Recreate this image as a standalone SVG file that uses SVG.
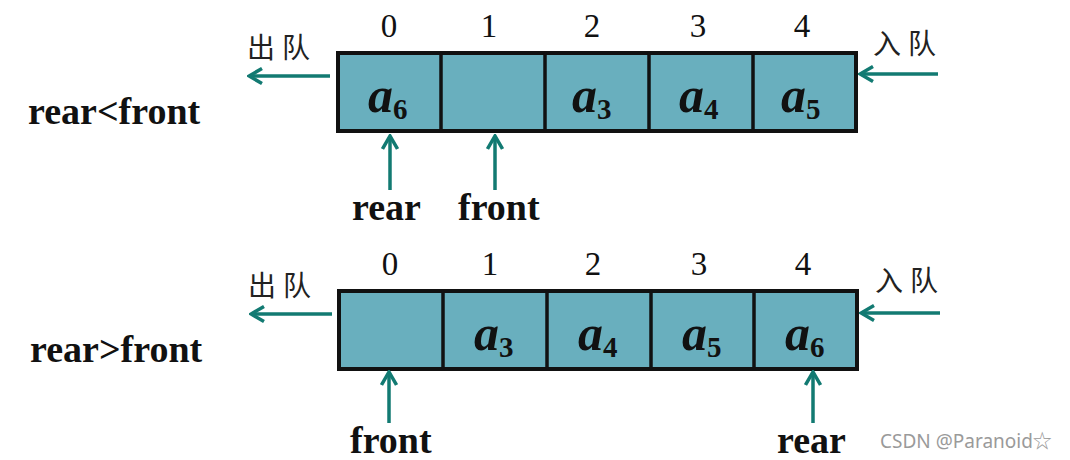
<svg xmlns="http://www.w3.org/2000/svg" width="1070" height="460" viewBox="0 0 1070 460">
<defs>
<style>
.cell{fill:#69afbe;stroke:#111;stroke-width:4}
.div{stroke:#111;stroke-width:3.5}
.idx{font-family:"Liberation Serif","Times New Roman",serif;font-size:33px;fill:#111;text-anchor:middle}
.el{font-family:"Liberation Serif","Times New Roman",serif;font-weight:bold;fill:#111}
.el .a{font-style:italic;font-size:50px}
.el .s{font-size:29px}
.lbl{font-family:"Liberation Serif","Times New Roman",serif;font-weight:bold;font-size:38px;fill:#111}
.cn{font-family:"Noto Sans CJK SC",sans-serif;font-size:28px;fill:#222;letter-spacing:7px}
.arr{stroke:#127a72;stroke-width:3.5;fill:none}
.wm{font-family:"Noto Sans","Noto Sans CJK SC",sans-serif;font-size:19px;fill:#9a9a9a}
</style>
<marker id="ah" viewBox="0 0 18 18" refX="16" refY="9" markerWidth="18" markerHeight="18" markerUnits="userSpaceOnUse" orient="auto">
<polyline points="3,1.5 16,9 3,16.5" fill="none" stroke="#127a72" stroke-width="3.5"/>
</marker>
</defs>
<rect width="1070" height="460" fill="#fff"/>

<g id="top-array">
<rect class="cell" x="338" y="53" width="518" height="78"/>
<line class="div" x1="441" y1="53" x2="441" y2="131"/>
<line class="div" x1="545" y1="53" x2="545" y2="131"/>
<line class="div" x1="649" y1="53" x2="649" y2="131"/>
<line class="div" x1="753" y1="53" x2="753" y2="131"/>
<text class="idx" x="389" y="37">0</text>
<text class="idx" x="489" y="37">1</text>
<text class="idx" x="592" y="37">2</text>
<text class="idx" x="698" y="37">3</text>
<text class="idx" x="802" y="37">4</text>
<text class="el" x="368" y="112"><tspan class="a">a</tspan><tspan class="s" dx="0" dy="7">6</tspan></text>
<text class="el" x="572" y="112"><tspan class="a">a</tspan><tspan class="s" dx="0" dy="7">3</tspan></text>
<text class="el" x="679" y="112"><tspan class="a">a</tspan><tspan class="s" dx="0" dy="7">4</tspan></text>
<text class="el" x="781" y="112"><tspan class="a">a</tspan><tspan class="s" dx="0" dy="7">5</tspan></text>
</g>

<g id="bottom-array">
<rect class="cell" x="339" y="291" width="518" height="78"/>
<line class="div" x1="443" y1="291" x2="443" y2="369"/>
<line class="div" x1="547" y1="291" x2="547" y2="369"/>
<line class="div" x1="651" y1="291" x2="651" y2="369"/>
<line class="div" x1="754" y1="291" x2="754" y2="369"/>
<text class="idx" x="390" y="275">0</text>
<text class="idx" x="490" y="275">1</text>
<text class="idx" x="593" y="275">2</text>
<text class="idx" x="699" y="275">3</text>
<text class="idx" x="803" y="275">4</text>
<text class="el" x="474" y="350"><tspan class="a">a</tspan><tspan class="s" dx="0" dy="7">3</tspan></text>
<text class="el" x="578" y="350"><tspan class="a">a</tspan><tspan class="s" dx="0" dy="7">4</tspan></text>
<text class="el" x="682" y="350"><tspan class="a">a</tspan><tspan class="s" dx="0" dy="7">5</tspan></text>
<text class="el" x="785" y="350"><tspan class="a">a</tspan><tspan class="s" dx="0" dy="7">6</tspan></text>
</g>

<g id="labels">
<text class="lbl" x="28" y="124">rear&lt;front</text>
<text class="lbl" x="30" y="362">rear&gt;front</text>
<text class="lbl" x="352" y="220">rear</text>
<text class="lbl" x="458" y="220">front</text>
<text class="lbl" x="350" y="453">front</text>
<text class="lbl" x="777" y="453">rear</text>
<text class="cn" x="247" y="58">出队</text>
<text class="cn" x="873" y="54">入队</text>
<text class="cn" x="248" y="296">出队</text>
<text class="cn" x="875" y="291">入队</text>
</g>

<g id="connectors">
<line class="arr" x1="330" y1="76" x2="249" y2="76" marker-end="url(#ah)"/>
<line class="arr" x1="938" y1="74" x2="860" y2="74" marker-end="url(#ah)"/>
<line class="arr" x1="332" y1="314" x2="251" y2="314" marker-end="url(#ah)"/>
<line class="arr" x1="940" y1="313" x2="861" y2="313" marker-end="url(#ah)"/>
<line class="arr" x1="390" y1="190" x2="390" y2="136" marker-end="url(#ah)"/>
<line class="arr" x1="495" y1="190" x2="495" y2="136" marker-end="url(#ah)"/>
<line class="arr" x1="389" y1="423" x2="389" y2="372" marker-end="url(#ah)"/>
<line class="arr" x1="813" y1="423" x2="813" y2="372" marker-end="url(#ah)"/>
</g>

<text class="wm" x="880" y="448">CSDN @Paranoid☆</text>
</svg>
